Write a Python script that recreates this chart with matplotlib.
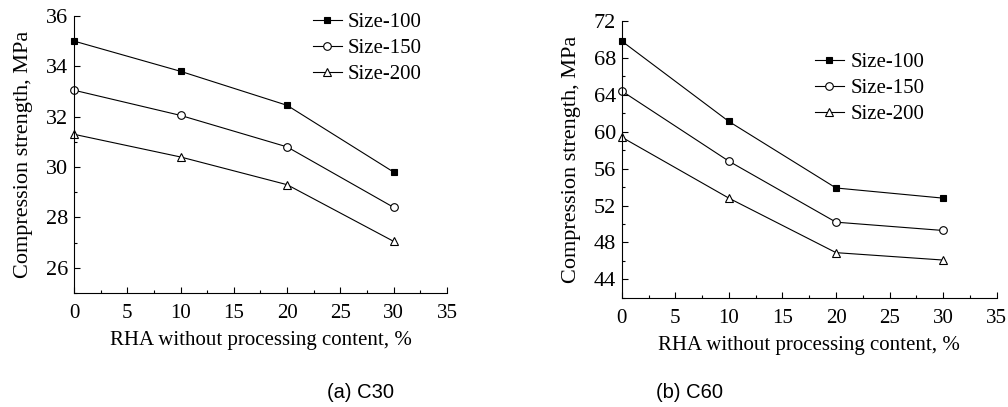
import numpy as np
import matplotlib.pyplot as plt
from matplotlib.ticker import MultipleLocator

# RHA content (%)
rha = [0, 10, 20, 30]
labels = ["Size-100", "Size-150", "Size-200"]
markers = ["s", "o", "^"]
facecolors = ["black", "white", "white"]

# (a) C30
c30_100 = [35.0, 33.8, 32.45, 29.8]
c30_150 = [33.05, 32.05, 30.8, 28.4]
c30_200 = [31.3, 30.4, 29.3, 27.05]

# (b) C60
c60_100 = [69.8, 61.1, 53.9, 52.8]
c60_150 = [64.4, 56.8, 50.2, 49.3]
c60_200 = [59.4, 52.8, 46.9, 46.1]

c30_ticks = [26, 28, 30, 32, 34, 36]
c60_ticks = [44, 48, 52, 56, 60, 64, 68, 72]

serif = "Liberation Serif"

fig = plt.figure(figsize=(10.08, 4.07), dpi=100)
ax1 = fig.add_axes([0.0734, 0.280, 0.370, 0.681])
ax2 = fig.add_axes([0.6168, 0.268, 0.372, 0.681])


def draw(ax, series, ylim, yticks, yminor, legend_anchor):
    for vals, lab, mk, fc in zip(series, labels, markers, facecolors):
        ax.plot(rha, vals, color="black", lw=0.8, marker=mk, ms=5.5 if mk != "s" else 4.8,
                mfc=fc, mec="black", mew=0.8, label=lab, clip_on=False)
    ax.set_xlim(0, 35)
    ax.set_ylim(*ylim)
    ax.xaxis.set_major_locator(MultipleLocator(5))
    ax.xaxis.set_minor_locator(MultipleLocator(2.5))
    ax.set_yticks(yticks)
    ax.yaxis.set_minor_locator(MultipleLocator(yminor))
    for s in ["top", "right"]:
        ax.spines[s].set_visible(False)
    for s in ["left", "bottom"]:
        ax.spines[s].set_linewidth(0.8)
    ax.tick_params(axis="both", which="major", direction="in", length=4.3, width=0.8)
    ax.tick_params(axis="both", which="minor", direction="in", length=2.2, width=0.8)
    ax.tick_params(axis="x", which="major", pad=8)
    ax.tick_params(axis="y", which="major", pad=4.3)
    for t in ax.get_xticklabels():
        t.set_fontfamily(serif)
        t.set_fontsize(15)
    for t in ax.get_yticklabels():
        t.set_fontfamily(serif)
        t.set_fontsize(16)
    ax.set_xlabel("RHA without processing content, %", family=serif, fontsize=15, labelpad=6)
    ax.set_ylabel("Compression strength, MPa", family=serif, fontsize=16, labelpad=9)
    ax.legend(loc="upper left", bbox_to_anchor=legend_anchor, frameon=False,
              prop={"family": serif, "size": 15}, handlelength=1.4, handletextpad=0.3,
              labelspacing=0.3, borderaxespad=0, borderpad=0)


draw(ax1, [c30_100, c30_150, c30_200], (25, 36), c30_ticks, 1, (0.64, 1.011))
draw(ax2, [c60_100, c60_150, c60_200], (42, 72), c60_ticks, 2, (0.515, 0.885))

fig.text(0.358, 0.035, "(a) C30", family="Liberation Sans", fontsize=14.5, ha="center", va="center")
fig.text(0.684, 0.035, "(b) C60", family="Liberation Sans", fontsize=14.5, ha="center", va="center")

fig.savefig("out.png", dpi=100)
